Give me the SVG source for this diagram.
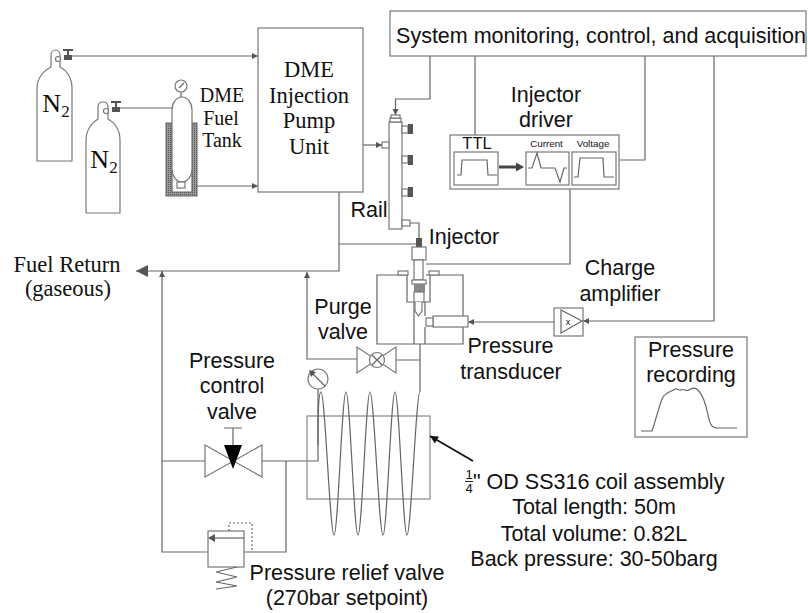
<svg xmlns="http://www.w3.org/2000/svg" width="808" height="613" viewBox="0 0 808 613">
<defs>
<style>
.l{fill:none;stroke:#666;stroke-width:1.2}
.w{fill:#fff;stroke:#777;stroke-width:1.2}
.g{fill:#555;stroke:none}
.a{font-family:"Liberation Sans",Arial,sans-serif;fill:#111;text-anchor:middle;font-size:21.5px}
.t{font-family:"Liberation Serif","Times New Roman",serif;fill:#111;text-anchor:middle}
</style>
<pattern id="h" width="2" height="2" patternUnits="userSpaceOnUse"><rect width="2" height="2" fill="#999"/><rect width="1" height="1" fill="#555"/></pattern>
<marker id="m" viewBox="0 0 10 10" refX="10" refY="5" markerWidth="6" markerHeight="7" markerUnits="userSpaceOnUse" orient="auto"><path d="M0 0L10 5L0 10Z" fill="#555"/></marker>
<marker id="mk" viewBox="0 0 10 10" refX="10" refY="5" markerWidth="11" markerHeight="8" markerUnits="userSpaceOnUse" orient="auto"><path d="M0 0L10 5L0 10Z" fill="#111"/></marker>
<marker id="ml" viewBox="0 0 10 10" refX="10" refY="5" markerWidth="12" markerHeight="13" markerUnits="userSpaceOnUse" orient="auto"><path d="M0 0L10 5L0 10Z" fill="#555"/></marker>
</defs>

<g id="connectors">
<path class="l" marker-end="url(#m)" d="M72 56H258"/>
<path class="l" d="M120 108H172"/>
<path class="l" marker-end="url(#m)" d="M185 186H258"/>
<path class="l" marker-end="url(#ml)" d="M339 192V271H136"/>
<path class="l" d="M339 244H416"/>
<path class="l" marker-end="url(#m)" d="M363 145H382"/>
<path class="l" marker-end="url(#m)" d="M430 56V99H395.500V115"/>
<path class="l" d="M475 56V135"/>
<path class="l" d="M645 56V160H619"/>
<path class="l" d="M570 189V264H426"/>
<path class="l" marker-end="url(#m)" d="M714 56V321H583"/>
<path class="l" marker-end="url(#m)" d="M554 322H468"/>
<path class="l" d="M410 223H419V238"/>
<path class="l" marker-end="url(#m)" d="M357 359H307V272"/>
<path class="l" d="M396 360H420M420 344V392"/>
<path class="l" marker-end="url(#m)" d="M208 552H162V271"/>
<path class="l" d="M162 461H205M262 461H318V389"/>
<path class="l" d="M244 552H286V461"/>
</g>

<g id="n2-cylinder-1">
<path class="w" d="M37 161V88C37 77 45 70 51 67V55C51 52 53 50 55.500 50C58 50 60 52 60 55V67C66 70 72 77 72 88V161Z"/>
<circle class="w" cx="58" cy="59" r="2.500"/>
<rect class="g" x="64" y="55" width="8" height="5"/><rect class="g" x="67" y="49" width="2" height="6"/><rect class="g" x="63" y="49" width="10" height="2"/>
<text class="t" x="56" y="112" font-size="26">N<tspan font-size="17" dy="5">2</tspan></text>
</g>

<g id="n2-cylinder-2">
<path class="w" d="M86 213V140C86 129 93 122 98 119V107C98 104 100 102 103 102C106 102 108 104 108 107V119C114 122 120 129 120 140V213Z"/>
<circle class="w" cx="106" cy="111" r="2.500"/>
<rect class="g" x="112" y="107" width="8" height="5"/><rect class="g" x="115" y="101" width="2" height="6"/><rect class="g" x="111" y="101" width="10" height="2"/>
<text class="t" x="104" y="168" font-size="26">N<tspan font-size="17" dy="5">2</tspan></text>
</g>

<g id="fuel-tank">
<rect x="166" y="123" width="31" height="73" fill="url(#h)" stroke="#666"/>
<rect x="172" y="123" width="20" height="69" fill="#fff"/>
<path class="l" d="M172 123V192H192V123"/>
<rect class="w" x="172" y="97" width="20" height="85" rx="10" ry="13"/>
<rect class="w" x="177" y="182" width="8" height="6"/>
<circle class="w" cx="181" cy="86" r="6"/>
<path class="l" d="M179 88L184 83M181 92V97"/>
<text class="t" x="222" y="102" font-size="20">DME</text>
<text class="t" x="221" y="125" font-size="20">Fuel</text>
<text class="t" x="222" y="147" font-size="20">Tank</text>
</g>

<g id="pump-unit">
<rect class="w" x="258" y="28" width="105" height="164"/>
<text class="t" x="309" y="77" font-size="22.500">DME</text>
<text class="t" x="309" y="103" font-size="22.500">Injection</text>
<text class="t" x="309" y="128" font-size="22.500">Pump</text>
<text class="t" x="309" y="154" font-size="22.500">Unit</text>
</g>

<g id="monitor">
<rect class="w" x="390" y="11" width="416" height="45" stroke="#555"/>
<text class="a" x="601" y="43">System monitoring, control, and acquisition</text>
</g>

<g id="rail">
<rect class="w" x="389" y="122" width="13" height="107"/>
<rect class="w" x="390" y="118" width="11" height="4"/><rect class="w" x="391" y="115" width="9" height="3"/>
<rect class="w" x="382" y="142" width="7" height="6"/>
<rect class="w" x="402" y="126" width="6" height="7"/><rect class="g" x="408" y="124" width="5" height="10"/>
<rect class="w" x="402" y="156" width="6" height="7"/><rect class="g" x="408" y="155" width="5" height="10"/>
<rect class="w" x="402" y="189" width="6" height="7"/><rect class="g" x="408" y="187" width="5" height="10"/>
<rect class="w" x="402" y="220" width="8" height="6"/>
<text class="a" x="369" y="217">Rail</text>
</g>

<g id="driver">
<text class="a" x="546" y="102">Injector</text>
<text class="a" x="546" y="127">driver</text>
<rect class="w" x="450" y="135" width="169" height="54"/>
<rect class="w" x="454" y="152" width="44" height="33"/>
<rect class="w" x="526" y="152" width="43" height="33"/>
<rect class="w" x="572" y="152" width="44" height="33"/>
<text class="a" x="477" y="149" style="font-size:16.500px">TTL</text>
<text class="a" x="546.500" y="147" style="font-size:9.800px">Current</text>
<text class="a" x="593" y="147" style="font-size:9.800px">Voltage</text>
<path class="l" d="M457 175H461L462 160H487L488 175H497"/>
<path class="l" d="M528 168H532L537 153L541 168H555L560 182L564 168H567"/>
<path class="l" d="M574 177H578L580 158H603L604 177H614"/>
<path d="M499 167H517" stroke="#444" stroke-width="3" fill="none"/><path d="M516 162.500L524 167L516 171.500Z" fill="#444"/>
</g>

<g id="block">
<path class="l" d="M407 275H377V344H463V275H426"/>
<path class="l" d="M407 272V302H430V272"/>
<path class="l" d="M414 302V344M425 302V316M425 327V344"/>
<rect class="w" x="398" y="271" width="10" height="4"/><rect class="w" x="429" y="271" width="10" height="4"/>
<rect class="w" x="433" y="316" width="35" height="11"/>
<rect class="w" x="426" y="318" width="7" height="8"/>
<text class="a" x="510.500" y="353">Pressure</text>
<text class="a" x="511" y="379">transducer</text>
</g>

<g id="injector">
<text class="a" x="464" y="244">Injector</text>
<rect x="416" y="238" width="6" height="9" fill="#555"/>
<rect class="w" x="412" y="247" width="14" height="13"/>
<rect class="w" x="414" y="260" width="9" height="20"/>
<rect class="w" x="412" y="280" width="14" height="4"/>
<rect x="414" y="284" width="11" height="8" fill="#888"/>
<rect class="w" x="414" y="292" width="10" height="10"/>
<path class="w" d="M415 302V311L418.500 316L422 311V302"/>
</g>

<g id="charge-amp">
<text class="a" x="620" y="275">Charge</text>
<text class="a" x="620" y="301">amplifier</text>
<rect class="w" x="554" y="308" width="29" height="28"/>
<path class="l" d="M561 310V333L582 321Z"/>
<text class="a" x="568" y="325" style="font-size:9px">x</text>
</g>

<g id="recording">
<rect class="w" x="635" y="337" width="112" height="100"/>
<text class="a" x="691" y="357">Pressure</text>
<text class="a" x="691" y="382">recording</text>
<path class="l" d="M641 431H652C656 420 659 405 663 397C666 392 671 392 675 389C677 388 679 391 681 390C684 388 686 392 689 390C692 388 695 387 698 390C703 395 706 405 708 415C710 424 711 428 718 428H737"/>
</g>

<g id="purge-valve">
<text class="a" x="343" y="314">Purge</text>
<text class="a" x="343" y="339">valve</text>
<path class="w" d="M357 347V373L396 347V373Z"/>
<circle class="w" cx="377" cy="360" r="7.500"/>
<path class="l" d="M372 355L382 365M382 355L372 365"/>
</g>

<g id="coil">
<rect x="307" y="416" width="123" height="83" fill="none" stroke="#888" stroke-width="1.200"/>
<path class="l" d="M318 445C318 420 318 392 321 392C325 392 330 535 334 535C338 535 342 392 346 392C350 392 354 535 358 535C362 535 366 392 370 392C374 392 379 535 383 535C387 535 391 392 395 392C399 392 403 535 407 535C411 535 416 392 420 392"/>
<text class="t" x="469" y="479" style="font-family:'Liberation Sans',Arial,sans-serif" font-size="13">1</text>
<text class="t" x="469" y="493" style="font-family:'Liberation Sans',Arial,sans-serif" font-size="13">4</text>
<path d="M465 481.500H473" stroke="#222" fill="none"/>
<text class="a" x="473" y="489" style="text-anchor:start">" OD SS316 coil assembly</text>
<text class="a" x="594" y="514">Total length: 50m</text>
<text class="a" x="594" y="541">Total volume: 0.82L</text>
<text class="a" x="594" y="566">Back pressure: 30-50barg</text>
<path marker-end="url(#mk)" stroke="#111" stroke-width="1.800" fill="none" d="M473 461L430 436"/>
</g>

<g id="pressure-control">
<text class="a" x="232" y="368">Pressure</text>
<text class="a" x="232" y="393">control</text>
<text class="a" x="232" y="419">valve</text>
<path class="w" d="M205 445V477L262 445V477Z"/>
<path d="M224 445H242L233 469Z" fill="#000"/>
<path class="l" d="M224 428H242M233 428V445"/>
<circle class="w" cx="318" cy="379" r="10"/>
<path class="l" d="M311 372L325 386"/>
<path d="M309 370L316 372L311 377Z" fill="#555"/>
</g>

<g id="relief-valve">
<rect class="w" x="208" y="531" width="36" height="36"/>
<path class="l" d="M244 538H213"/>
<path d="M208 538L215 534V542Z" fill="#555"/>
<path class="l" stroke-dasharray="2 2" d="M229 531V523H252V552"/>
<path class="l" d="M237 567L216 572L237 577L216 582L237 586L216 589"/>
<text class="a" x="347" y="580">Pressure relief valve</text>
<text class="a" x="347" y="605">(270bar setpoint)</text>
</g>

<g id="fuel-return">
<text class="t" x="67" y="272" font-size="22.500">Fuel Return</text>
<text class="t" x="68" y="296" font-size="22.500">(gaseous)</text>
</g>
</svg>
